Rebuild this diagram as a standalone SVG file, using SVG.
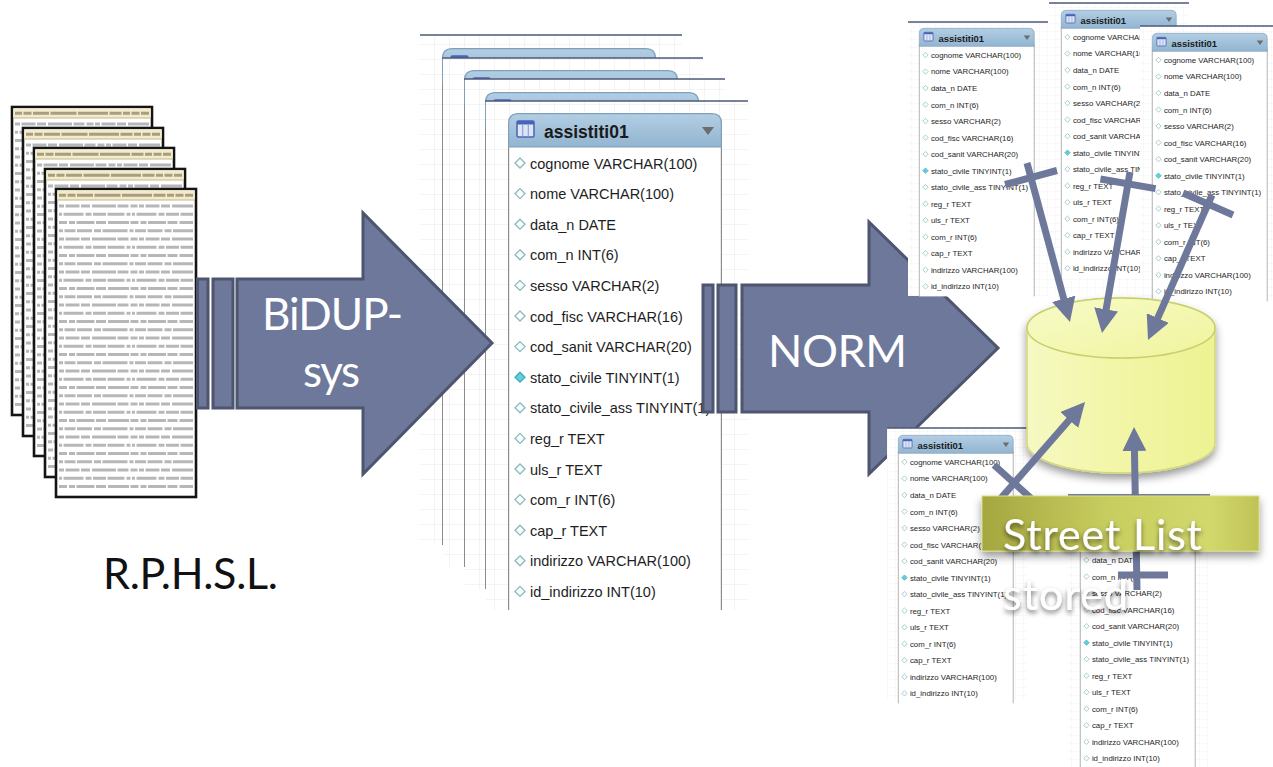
<svg xmlns="http://www.w3.org/2000/svg" width="1273" height="767" viewBox="0 0 1273 767">
<style>
  .slide{font-family:Lato,"Open Sans","Liberation Sans",sans-serif}
  .wtxt{fill:#ffffff}
  .arw{fill:#6e789b;stroke:#4d556f;stroke-width:3}
  .row{font-family:"Liberation Sans",Arial,sans-serif;font-size:14.5px;fill:#1e1e1e}
  .ttl{font-family:"Liberation Sans",Arial,sans-serif;font-size:17.5px;font-weight:bold;fill:#1a1a1a}
  .cvs-top{stroke:#4b5a78;stroke-width:1.6}
  .conn{stroke:#6e789b;stroke-width:7;fill:none}
  .ln{fill:none;stroke:#6f6f6f;stroke-width:2.8;opacity:.5}
</style>
<defs>
  <pattern id="grid" width="15" height="15" patternUnits="userSpaceOnUse">
    <rect width="15" height="15" fill="#ffffff"/>
    <path d="M15 0V15H0" fill="none" stroke="#e9e9e9" stroke-width="1"/>
  </pattern>
  <pattern id="gridS" width="8" height="8" patternUnits="userSpaceOnUse">
    <rect width="8" height="8" fill="#ffffff"/>
    <path d="M8 0V8H0" fill="none" stroke="#efefef" stroke-width="0.8"/>
  </pattern>
  <linearGradient id="hdrG" x1="0" y1="0" x2="0" y2="1">
    <stop offset="0" stop-color="#b2cee3"/>
    <stop offset="1" stop-color="#92b5d1"/>
  </linearGradient>
  <linearGradient id="cylG" x1="0" y1="0" x2="1" y2="0">
    <stop offset="0" stop-color="#f6f9c2"/>
    <stop offset="0.45" stop-color="#f2f6a8"/>
    <stop offset="1" stop-color="#edf292"/>
  </linearGradient>
  <linearGradient id="cylTop" x1="0" y1="0" x2="1" y2="1">
    <stop offset="0" stop-color="#f8fbc8"/>
    <stop offset="1" stop-color="#eff49c"/>
  </linearGradient>
  <linearGradient id="boxG" x1="0" y1="0" x2="1" y2="0">
    <stop offset="0" stop-color="#a4a63f"/>
    <stop offset="0.45" stop-color="#c8cd5f"/>
    <stop offset="0.82" stop-color="#d3d86d"/>
    <stop offset="1" stop-color="#bfc356"/>
  </linearGradient>
  <filter id="shadow" x="-20%" y="-20%" width="140%" height="160%">
    <feDropShadow dx="0" dy="5" stdDeviation="4" flood-color="#000" flood-opacity="0.4"/>
  </filter>
  <filter id="txtShadow" x="-10%" y="-30%" width="120%" height="170%">
    <feDropShadow dx="0" dy="3" stdDeviation="2.5" flood-color="#000" flood-opacity="0.55"/>
  </filter>
  <marker id="ah" viewBox="0 0 24 24" refX="3" refY="12" markerWidth="24" markerHeight="24" markerUnits="userSpaceOnUse" orient="auto">
    <path d="M0 0L24 12L0 24Z" fill="#6e789b"/>
  </marker>

  <!-- printed listing page -->
  <g id="page">
    <rect width="140" height="308" fill="#ffffff" stroke="#141414" stroke-width="2.6"/>
    <rect x="1.3" y="1.3" width="137.4" height="9.5" fill="#f2ebcc"/>
    <path d="M3 6.2H137" stroke="#8f8468" stroke-width="3" stroke-dasharray="7 1.5 8 1.5 16 1.5 26 1.5 30 1.5 12 1.5" opacity="0.75"/>
    <path d="M1.3 11H138.7" stroke="#c6b582" stroke-width="1.2"/>
    <path class="ln" stroke-dasharray="5 1.5 14 1.5 9 2 24 1.5 11 2 7 1.5" d="M3 17H137M3 50H137M3 83H137M3 116H137M3 149H137M3 182H137M3 215H137M3 248H137M3 281H137"/>
    <path class="ln" stroke-dasharray="3 1.5 20 2 6 1.5 13 1.5 17 2 4 1.5" d="M3 25.25H137M3 58.25H137M3 91.25H137M3 124.25H137M3 157.25H137M3 190.25H137M3 223.25H137M3 256.25H137M3 289.25H137"/>
    <path class="ln" stroke-dasharray="8 2 6 1.5 18 1.5 10 2 21 1.5" d="M3 33.5H137M3 66.5H137M3 99.5H137M3 132.5H137M3 165.5H137M3 198.5H137M3 231.5H137M3 264.5H137M3 297.5H137"/>
    <path class="ln" stroke-dasharray="4 1.5 11 1.5 15 2 7 1.5 25 2" d="M3 41.75H137M3 74.75H137M3 107.75H137M3 140.75H137M3 173.75H137M3 206.75H137M3 239.75H137M3 272.75H137"/>
  </g>

  <!-- column markers -->
  <path id="dia" d="M0 -5L5 0L0 5L-5 0Z" fill="#fbfdfd" stroke="#88b9bd" stroke-width="1.3"/>
  <path id="diaF" d="M0 -5L5 0L0 5L-5 0Z" fill="#5fd0dc" stroke="#47a9b6" stroke-width="1.3"/>

  <!-- table card: assistiti01 -->
  <g id="tbl">
    <rect x="0" y="20" width="214" height="477" fill="#ffffff"/>
    <path d="M0.6 30V497M213.4 30V497" fill="none" stroke="#8c8c8c" stroke-width="1.2"/>
    <path d="M0.6 34V10Q0.6 0.6 10 0.6H204Q213.4 0.6 213.4 10V34Z" fill="url(#hdrG)" stroke="#7f9fbb" stroke-width="1.2"/>
    <rect x="9" y="8" width="17" height="16" rx="1.5" fill="#dde6f5" stroke="#4a63b8" stroke-width="1.5"/>
    <rect x="9" y="8" width="17" height="3.5" fill="#4a63b8"/>
    <path d="M14.7 11.5V23.5M20.3 11.5V23.5" stroke="#8ea2da" stroke-width="1.2"/>
    <text class="ttl" x="36" y="25">assistiti01</text>
    <path d="M194 14H206L200 22Z" fill="#6c6c6c"/>
    <use href="#dia" x="12" y="50"/>
    <use href="#dia" x="12" y="80.6"/>
    <use href="#dia" x="12" y="111.2"/>
    <use href="#dia" x="12" y="141.8"/>
    <use href="#dia" x="12" y="172.4"/>
    <use href="#dia" x="12" y="203"/>
    <use href="#dia" x="12" y="233.6"/>
    <use href="#diaF" x="12" y="264.2"/>
    <use href="#dia" x="12" y="294.8"/>
    <use href="#dia" x="12" y="325.4"/>
    <use href="#dia" x="12" y="356"/>
    <use href="#dia" x="12" y="386.6"/>
    <use href="#dia" x="12" y="417.2"/>
    <use href="#dia" x="12" y="447.8"/>
    <use href="#dia" x="12" y="478.4"/>
    <text class="row" x="22" y="55.5">cognome VARCHAR(100)</text>
    <text class="row" x="22" y="86.1">nome VARCHAR(100)</text>
    <text class="row" x="22" y="116.7">data_n DATE</text>
    <text class="row" x="22" y="147.3">com_n INT(6)</text>
    <text class="row" x="22" y="177.9">sesso VARCHAR(2)</text>
    <text class="row" x="22" y="208.5">cod_fisc VARCHAR(16)</text>
    <text class="row" x="22" y="239.1">cod_sanit VARCHAR(20)</text>
    <text class="row" x="22" y="269.7">stato_civile TINYINT(1)</text>
    <text class="row" x="22" y="300.3">stato_civile_ass TINYINT(1)</text>
    <text class="row" x="22" y="330.9">reg_r TEXT</text>
    <text class="row" x="22" y="361.5">uls_r TEXT</text>
    <text class="row" x="22" y="392.1">com_r INT(6)</text>
    <text class="row" x="22" y="422.7">cap_r TEXT</text>
    <text class="row" x="22" y="453.3">indirizzo VARCHAR(100)</text>
    <text class="row" x="22" y="483.9">id_indirizzo INT(10)</text>
  </g>
</defs>

<rect width="1273" height="767" fill="#ffffff"/>

<!-- source listings -->
<g id="listing-stack">
  <use href="#page" x="12" y="107"/>
  <use href="#page" x="23" y="128"/>
  <use href="#page" x="34" y="148"/>
  <use href="#page" x="45" y="169"/>
  <use href="#page" x="56" y="189"/>
</g>
<g id="label-rphsl">
  <text class="slide" x="103" y="589" font-size="43" fill="#111111" textLength="175">R.P.H.S.L.</text>
</g>

<!-- stacked schema screens -->
<g id="schema-stack">
  <rect x="420" y="35" width="262" height="508" fill="url(#grid)"/>
  <line class="cvs-top" x1="420" y1="35" x2="682" y2="35"/>
  <use href="#tbl" x="442" y="48"/>
  <rect x="443" y="58" width="260" height="509" fill="url(#grid)"/>
  <line class="cvs-top" x1="442" y1="58" x2="703" y2="58"/>
  <use href="#tbl" x="464" y="70"/>
  <rect x="465" y="79" width="260" height="510" fill="url(#grid)"/>
  <line class="cvs-top" x1="464" y1="79" x2="725" y2="79"/>
  <use href="#tbl" x="485" y="92"/>
  <rect x="486" y="101" width="262" height="509" fill="url(#grid)"/>
  <line class="cvs-top" x1="485" y1="101" x2="748" y2="101"/>
  <use href="#tbl" x="508" y="113"/>
</g>

<!-- process arrows -->
<g id="arrow-bidup">
  <rect class="arw" x="197.5" y="279" width="10.5" height="129"/>
  <rect class="arw" x="213" y="279" width="20" height="129"/>
  <path class="arw" d="M237 279H363V213L492 343L363 474V408H237Z"/>
  <text class="slide wtxt" x="262" y="330" font-size="44" textLength="141">BiDUP-</text>
  <text class="slide wtxt" x="303" y="387" font-size="44" textLength="57">sys</text>
</g>
<g id="arrow-norm">
  <rect class="arw" x="703" y="285" width="10" height="127"/>
  <rect class="arw" x="718" y="285" width="18" height="127"/>
  <path class="arw" d="M742 285H869V222L998 348L869 474V412H742Z"/>
  <text class="slide wtxt" x="768" y="367" font-size="45" textLength="139">NORM</text>
</g>

<!-- normalised tables -->
<g id="table-a">
  <rect x="908" y="22" width="140" height="274" fill="url(#gridS)"/>
  <line class="cvs-top" x1="908" y1="22" x2="1048" y2="22"/>
  <use href="#tbl" transform="translate(919 28) scale(0.54)"/>
</g>
<g id="table-b">
  <rect x="1049" y="3" width="140" height="290" fill="url(#gridS)"/>
  <line class="cvs-top" x1="1049" y1="3" x2="1189" y2="3"/>
  <use href="#tbl" transform="translate(1061 10) scale(0.54)"/>
</g>
<g id="table-c">
  <rect x="1140" y="26" width="133" height="274" fill="url(#gridS)"/>
  <line class="cvs-top" x1="1140" y1="26" x2="1273" y2="26"/>
  <use href="#tbl" transform="translate(1152 33) scale(0.54)"/>
</g>
<g id="table-d">
  <rect x="887" y="428" width="140" height="272" fill="url(#gridS)"/>
  <line class="cvs-top" x1="887" y1="428" x2="1027" y2="428"/>
  <use href="#tbl" transform="translate(898 435) scale(0.54)"/>
</g>
<g id="table-e">
  <rect x="1068" y="495" width="142" height="272" fill="url(#gridS)"/>
  <line class="cvs-top" x1="1068" y1="495" x2="1210" y2="495"/>
  <use href="#tbl" transform="translate(1080 500) scale(0.54)"/>
</g>

<!-- database -->
<g id="database" filter="url(#shadow)">
  <path d="M1027 328V443A94 30 0 0 0 1215 443V328A94 30 0 0 0 1027 328Z" fill="url(#cylG)" stroke="#d2d87c" stroke-width="1.5"/>
  <ellipse cx="1121" cy="328" rx="94" ry="30" fill="url(#cylTop)" stroke="#c9cf6e" stroke-width="1.5"/>
</g>

<!-- connectors -->
<g id="connectors">
  <path class="conn" d="M1027 163L1064.5 301.7" marker-end="url(#ah)"/>
  <path class="conn" d="M1005 184.5L1057 170.5"/>
  <path class="conn" d="M1130 172L1105.6 312.3" marker-end="url(#ah)"/>
  <path class="conn" d="M1100.4 179L1155.6 188.6"/>
  <path class="conn" d="M1212 195L1156.5 320.8" marker-end="url(#ah)"/>
  <path class="conn" d="M1183 193L1233 215"/>
  <path class="conn" d="M995 505L1071.2 417.8" marker-end="url(#ah)"/>
  <path class="conn" d="M994 465L1034 501"/>
  <path class="conn" d="M1137 590L1134.4 448" marker-end="url(#ah)"/>
  <path class="conn" d="M1118 575H1168"/>
</g>

<!-- street list box -->
<g id="street-list">
  <rect x="982" y="496" width="277" height="55" fill="url(#boxG)" stroke="#d9dd86" stroke-width="1" filter="url(#shadow)"/>
  <text class="slide wtxt" x="1003" y="550" font-size="43" textLength="199" filter="url(#txtShadow)">Street List</text>
</g>
<g id="label-stored">
  <text class="slide wtxt" x="1003" y="610" font-size="43" textLength="125" filter="url(#txtShadow)">stored</text>
</g>
</svg>
